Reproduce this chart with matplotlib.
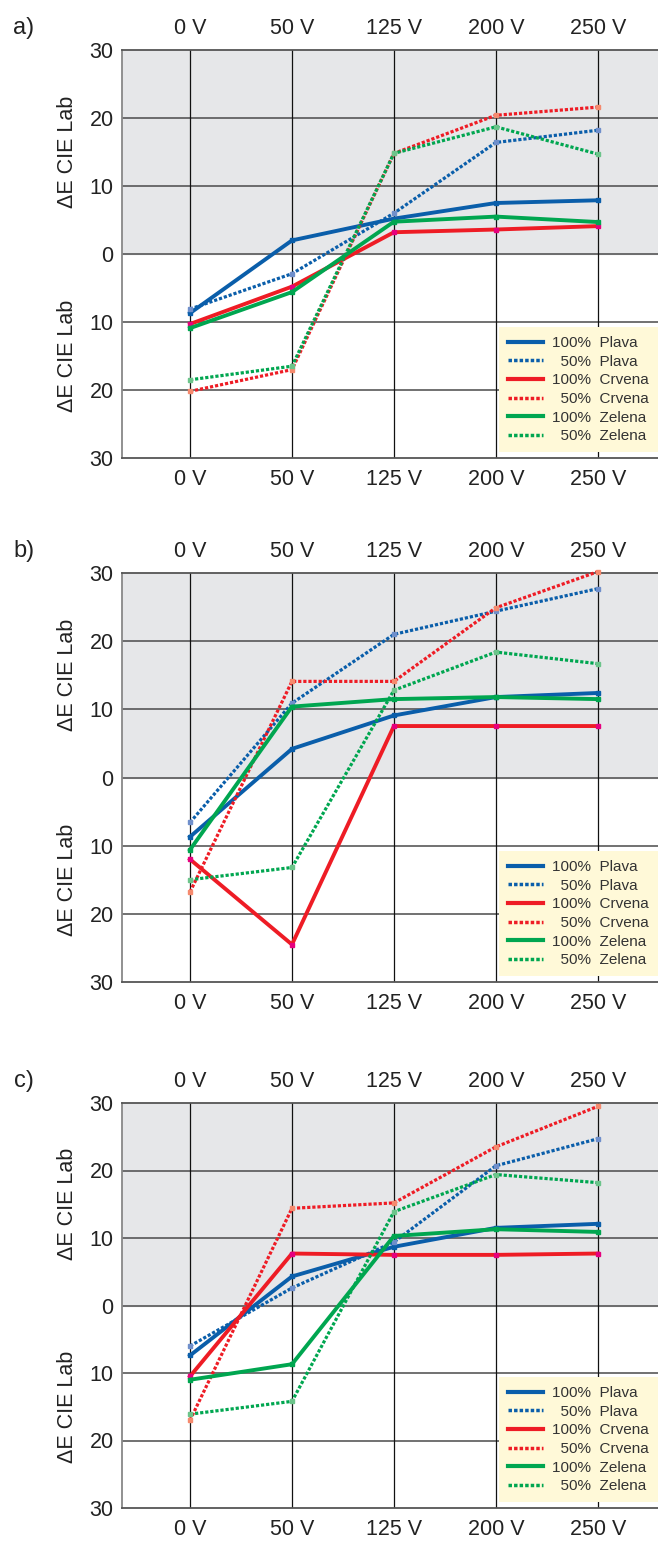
import matplotlib.pyplot as plt
import numpy as np
from matplotlib.ticker import FuncFormatter

plt.rcParams['font.family'] = ['Liberation Sans Narrow', 'Liberation Sans', 'DejaVu Sans']

# napon na x osi
napon = ["0 V", "50 V", "125 V", "200 V", "250 V"]

# ΔE vrijednosti (gore pozitivno, dolje negativno)
# panel a)
plava100_a = [-8.7, 2.0, 5.2, 7.5, 7.9]
plava50_a = [-8.1, -2.9, 6.0, 16.4, 18.2]
crvena100_a = [-10.3, -4.8, 3.2, 3.6, 4.1]
crvena50_a = [-20.2, -17.0, 14.8, 20.4, 21.6]
zelena100_a = [-10.9, -5.6, 4.75, 5.5, 4.7]
zelena50_a = [-18.5, -16.5, 14.8, 18.7, 14.7]
# panel b)
plava100_b = [-8.7, 4.2, 9.1, 11.8, 12.4]
plava50_b = [-6.6, 10.9, 21.0, 24.4, 27.7]
crvena100_b = [-12.0, -24.5, 7.55, 7.55, 7.55]
crvena50_b = [-16.8, 14.1, 14.1, 24.9, 30.2]
zelena100_b = [-10.6, 10.4, 11.5, 11.8, 11.5]
zelena50_b = [-15.0, -13.2, 12.8, 18.4, 16.7]
# panel c)
plava100_c = [-7.4, 4.3, 8.7, 11.5, 12.1]
plava50_c = [-6.0, 2.6, 9.4, 20.7, 24.7]
crvena100_c = [-10.5, 7.7, 7.5, 7.5, 7.7]
crvena50_c = [-17.0, 14.4, 15.2, 23.5, 29.5]
zelena100_c = [-11.0, -8.7, 10.3, 11.3, 10.9]
zelena50_c = [-16.1, -14.2, 13.9, 19.4, 18.2]

oznake = ["100%  Plava", "  50%  Plava", "100%  Crvena", "  50%  Crvena",
          "100%  Zelena", "  50%  Zelena"]
paneli = ["a)", "b)", "c)"]

plava = "#0A5EAA"
crvena = "#EE1C25"
zelena = "#00A650"
stilovi = [
    (plava, "-", "#0A5EAA"),
    (plava, (0, (1, 0.6)), "#6F8FCB"),
    (crvena, "-", "#E6007E"),
    (crvena, (0, (1, 0.6)), "#F58A6E"),
    (zelena, "-", "#00A650"),
    (zelena, (0, (1, 0.6)), "#6CC48A"),
]

podaci = [
    [plava100_a, plava50_a, crvena100_a, crvena50_a, zelena100_a, zelena50_a],
    [plava100_b, plava50_b, crvena100_b, crvena50_b, zelena100_b, zelena50_b],
    [plava100_c, plava50_c, crvena100_c, crvena50_c, zelena100_c, zelena50_c],
]

fig = plt.figure(figsize=(6.58, 15.47), dpi=100)
W, H = 658.0, 1547.0
# (gornji rub, donji rub) u pikselima
rubovi = [(50, 458), (573, 982), (1103, 1508)]
lijevo = 122

x = np.arange(len(napon))
for k, (top, bot) in enumerate(rubovi):
    ax = fig.add_axes([lijevo / W, 1 - bot / H, (W - lijevo) / W, (bot - top) / H])
    ax.axhspan(0, 30, color="#E6E7E9", zorder=0)
    ax.set_xlim(-0.667, 4.59)
    ax.set_ylim(-30, 30)
    for yy in [-20, -10, 0, 10, 20]:
        ax.axhline(yy, color="#4a4a4a", lw=1.1, zorder=1)
    for xx in x:
        ax.axvline(xx, color="#111111", lw=0.9, zorder=1)

    for serija, (boja, ls, mboja), oz in zip(podaci[k], stilovi, oznake):
        ax.plot(x, serija, color=boja, ls=ls, lw=2.8 if ls == "-" else 2.3,
                dash_capstyle="butt", marker="s", ms=3.4, mfc=mboja, mec=mboja,
                label=oz, zorder=3, clip_on=False)

    ax.set_xticks(x)
    ax.set_xticklabels(napon)
    ax.set_yticks([-30, -20, -10, 0, 10, 20, 30])
    ax.yaxis.set_major_formatter(FuncFormatter(lambda v, p: "%d" % abs(round(v))))
    ax.tick_params(axis="x", top=True, labeltop=True, bottom=True, labelbottom=True,
                   length=0, pad=8, labelsize=15.5, labelcolor="#222222")
    ax.tick_params(axis="y", length=0, pad=6, labelsize=15.5, labelcolor="#222222")
    for s in ["top", "bottom"]:
        ax.spines[s].set_color("#555555")
        ax.spines[s].set_linewidth(1.3)
    ax.spines["left"].set_color("#888888")
    ax.spines["left"].set_linewidth(1.3)
    ax.spines["right"].set_visible(False)

    for yc in [0.75, 0.25]:
        ax.text(-0.1026, yc, "ΔE CIE Lab", transform=ax.transAxes, rotation=90,
                ha="center", va="center", fontsize=15.5, color="#222222",
                family=["Liberation Sans", "DejaVu Sans"])
    ax.text(-0.183, 1.055, paneli[k], transform=ax.transAxes, ha="center",
            va="center", fontsize=17, color="#222222",
            family=["Liberation Sans", "DejaVu Sans"])

    leg = ax.legend(loc="lower right", bbox_to_anchor=(1.0, 0.014), borderaxespad=0,
                    fontsize=11, handlelength=2.3, handletextpad=0.6,
                    labelspacing=0.3, borderpad=0.6, fancybox=False,
                    facecolor="#FFF9D8", edgecolor="none", framealpha=1)
    for h in leg.get_lines():
        h.set_marker("")
        h.set_linewidth(3.0 if h.get_linestyle() == "-" else 2.5)
    for t in leg.get_texts():
        t.set_color("#333333")
    leg.set_zorder(5)

fig.savefig("out.png", dpi=100)
